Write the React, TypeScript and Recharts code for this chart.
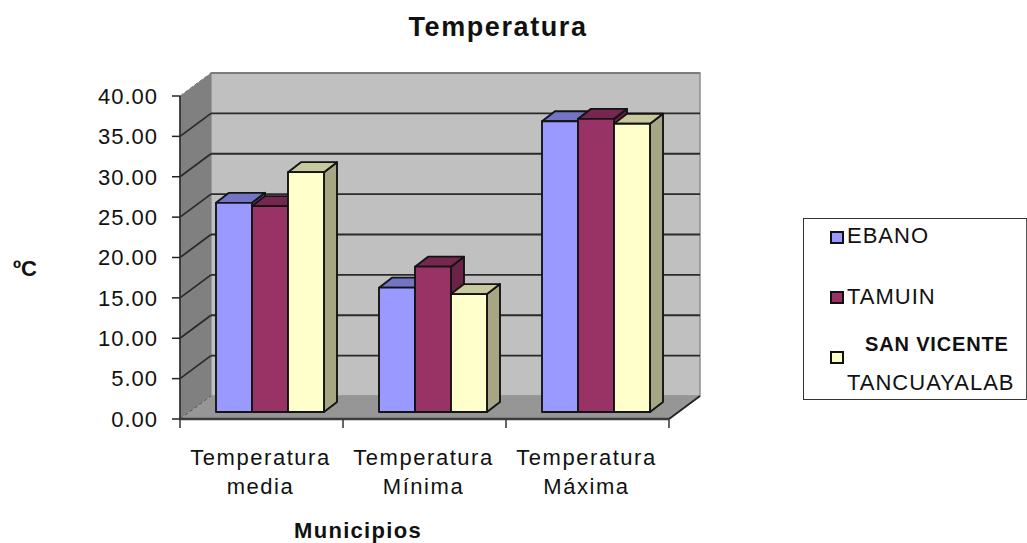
import { Bar, BarChart, Legend, ReferenceArea, XAxis, YAxis } from "recharts";

const categories = ["Temperatura media", "Temperatura Mínima", "Temperatura Máxima"];
const ebano = [25.9, 15.4, 36.0];
const tamuin = [25.5, 18.0, 36.3];
const sanVicente = [29.7, 14.6, 35.7];
const yTicks = [0, 5, 10, 15, 20, 25, 30, 35, 40];

const data = categories.map((name, i) => ({
    name,
    ebano: ebano[i],
    tamuin: tamuin[i],
    sanVicente: sanVicente[i],
}));

const FONT = '"Liberation Sans", Arial, sans-serif';
const TEXT = { fontFamily: FONT, fontSize: 22, letterSpacing: 1.55, fill: "#111" };

// depth of the "box" and of the bars, in px
const WALL_DX = 31;
const WALL_DY = -23;
const BAR_SHIFT_X = 9;
const BAR_SHIFT_Y = -7;
const BAR_DX = 13;
const BAR_DY = -10;

function Walls(props: any) {
    const { x, y, width, height } = props;
    const bottom = y + height;
    const right = x + width;
    return (
        <g>
            <polygon
                points={`${x + WALL_DX},${y + WALL_DY} ${right + WALL_DX},${y + WALL_DY} ${right + WALL_DX},${bottom + WALL_DY} ${x + WALL_DX},${bottom + WALL_DY}`}
                fill="#c0c0c0"
                stroke="#8f8f8f"
                strokeWidth={1.5}
            />
            <polygon
                points={`${x},${y} ${x + WALL_DX},${y + WALL_DY} ${x + WALL_DX},${bottom + WALL_DY} ${x},${bottom}`}
                fill="#808080"
            />
            <polygon
                points={`${x},${bottom} ${right},${bottom} ${right + WALL_DX},${bottom + WALL_DY} ${x + WALL_DX},${bottom + WALL_DY}`}
                fill="#969696"
            />
            {yTicks.map((t) => {
                const ty = bottom - (height * t) / 40;
                return (
                    <g key={t}>
                        {t > 0 && t < 40 && (
                            <line
                                x1={x + WALL_DX}
                                y1={ty + WALL_DY}
                                x2={right + WALL_DX}
                                y2={ty + WALL_DY}
                                stroke="#2b2b2b"
                                strokeWidth={1.8}
                            />
                        )}
                        <line
                            x1={x}
                            y1={ty}
                            x2={x + WALL_DX}
                            y2={ty + WALL_DY}
                            stroke={t === 0 ? "#555" : t === 40 ? "#777" : "#2b2b2b"}
                            strokeWidth={t === 0 || t === 40 ? 1 : 1.8}
                            strokeDasharray={t === 0 || t === 40 ? "4 2" : undefined}
                        />
                    </g>
                );
            })}
            <line
                x1={x + WALL_DX}
                y1={y + WALL_DY}
                x2={right + WALL_DX}
                y2={y + WALL_DY}
                stroke="#6f6f6f"
                strokeWidth={1.5}
            />
            <line
                x1={right}
                y1={bottom}
                x2={right + WALL_DX}
                y2={bottom + WALL_DY}
                stroke="#222"
                strokeWidth={1.8}
            />
            {/* x ticks sit on the band edges here, not on the band centres */}
            {[0, 1, 2, 3].map((i) => {
                const tx = x + (width * i) / categories.length;
                return <line key={i} x1={tx} y1={bottom} x2={tx} y2={bottom + 9} stroke="#333" strokeWidth={1.5} />;
            })}
        </g>
    );
}

function Bar3D(props: any) {
    const { x, y, width, height, front, top, side } = props;
    const x0 = x + BAR_SHIFT_X;
    const y0 = y + BAR_SHIFT_Y;
    const x1 = x0 + width;
    const y1 = y0 + height;
    const edge = { stroke: "#141414", strokeWidth: 1.9, strokeLinejoin: "round" as const };
    return (
        <g>
            <polygon
                points={`${x1},${y0} ${x1 + BAR_DX},${y0 + BAR_DY} ${x1 + BAR_DX},${y1 + BAR_DY} ${x1},${y1}`}
                fill={side}
                {...edge}
            />
            <polygon
                points={`${x0},${y0} ${x0 + BAR_DX},${y0 + BAR_DY} ${x1 + BAR_DX},${y0 + BAR_DY} ${x1},${y0}`}
                fill={top}
                {...edge}
            />
            <rect x={x0} y={y0} width={width} height={height} fill={front} {...edge} />
        </g>
    );
}

function CategoryTick({ x, y, payload }: any) {
    const words = String(payload.value).split(" ");
    return (
        <text {...TEXT} textAnchor="middle">
            <tspan x={x - 1} y={y + 35}>
                {words[0]}
            </tspan>
            <tspan x={x - 1} y={y + 64}>
                {words[1]}
            </tspan>
        </text>
    );
}

function LegendBox() {
    const mark = (top: number, fill: string) => (
        <div
            style={{
                position: "absolute",
                left: 26,
                top,
                width: 10,
                height: 9,
                background: fill,
                border: "2px solid #111",
            }}
        />
    );
    const label = (left: number, top: number, text: string, bold = false) => (
        <div
            style={{
                position: "absolute",
                left,
                top,
                fontFamily: FONT,
                fontSize: bold ? 20 : 22,
                fontWeight: bold ? "bold" : "normal",
                letterSpacing: bold ? 0.85 : 1,
                lineHeight: "24px",
                whiteSpace: "nowrap",
                color: "#111",
            }}
        >
            {text}
        </div>
    );
    return (
        <div
            style={{
                position: "relative",
                width: 224,
                height: 182,
                boxSizing: "border-box",
                border: "1px solid #333",
                borderRight: "1px solid #555",
                background: "#fff",
            }}
        >
            {mark(12, "#9999ff")}
            {label(43, 5, "EBANO")}
            {mark(72, "#993366")}
            {label(43, 66, "TAMUIN")}
            {mark(132, "#ffffcc")}
            {label(61, 113, "SAN VICENTE", true)}
            {label(43, 152, "TANCUAYALAB")}
        </div>
    );
}

export default function App() {
    return (
        <div style={{ position: "absolute", left: 0, top: 0, width: 1027, height: 543, background: "#fff" }}>
            <BarChart
                width={1027}
                height={543}
                data={data}
                margin={{ top: 96, right: 358, bottom: 64, left: 0 }}
                barCategoryGap={27}
                barGap={0}
            >
                <ReferenceArea yAxisId={0} y1={0} y2={40} shape={Walls} ifOverflow="visible" />
                <XAxis
                    dataKey="name"
                    height={60}
                    interval={0}
                    tick={<CategoryTick />}
                    tickSize={9}
                    axisLine={{ stroke: "#3c3c3c", strokeWidth: 2.5 }}
                    tickLine={false}
                />
                <YAxis
                    width={180}
                    domain={[0, 40]}
                    ticks={yTicks}
                    interval={0}
                    tickFormatter={(v: number) => v.toFixed(2)}
                    tick={{ ...TEXT, letterSpacing: 1 }}
                    tickSize={8}
                    tickMargin={14}
                    axisLine={{ stroke: "#333", strokeWidth: 1.8 }}
                    tickLine={{ stroke: "#222", strokeWidth: 1.5 }}
                />
                <Bar
                    dataKey="ebano"
                    name="EBANO"
                    fill="#9999ff"
                    isAnimationActive={false}
                    shape={<Bar3D front="#9999ff" top="#7474c4" side="#6a6ab0" />}
                />
                <Bar
                    dataKey="tamuin"
                    name="TAMUIN"
                    fill="#993366"
                    isAnimationActive={false}
                    shape={<Bar3D front="#993366" top="#76274f" side="#6a2347" />}
                />
                <Bar
                    dataKey="sanVicente"
                    name="SAN VICENTE TANCUAYALAB"
                    fill="#ffffcc"
                    isAnimationActive={false}
                    shape={<Bar3D front="#ffffcc" top="#c9c9a0" side="#a6a684" />}
                />
                <Legend
                    layout="vertical"
                    align="center"
                    verticalAlign="middle"
                    content={<LegendBox />}
                    wrapperStyle={{ position: "absolute", left: 803, top: 218, width: 224, height: 182 }}
                />
                <text x={498} y={36} textAnchor="middle" fontFamily={FONT} fontSize={27} fontWeight="bold" letterSpacing={1.6} fill="#111">
                    Temperatura
                </text>
                <text x={358} y={538} textAnchor="middle" fontFamily={FONT} fontSize={22} fontWeight="bold" letterSpacing={1.3} fill="#111">
                    Municipios
                </text>
                <text x={25} y={276} textAnchor="middle" fontFamily={FONT} fontSize={22} fontWeight="bold" fill="#111">
                    ºC
                </text>
            </BarChart>
        </div>
    );
}
